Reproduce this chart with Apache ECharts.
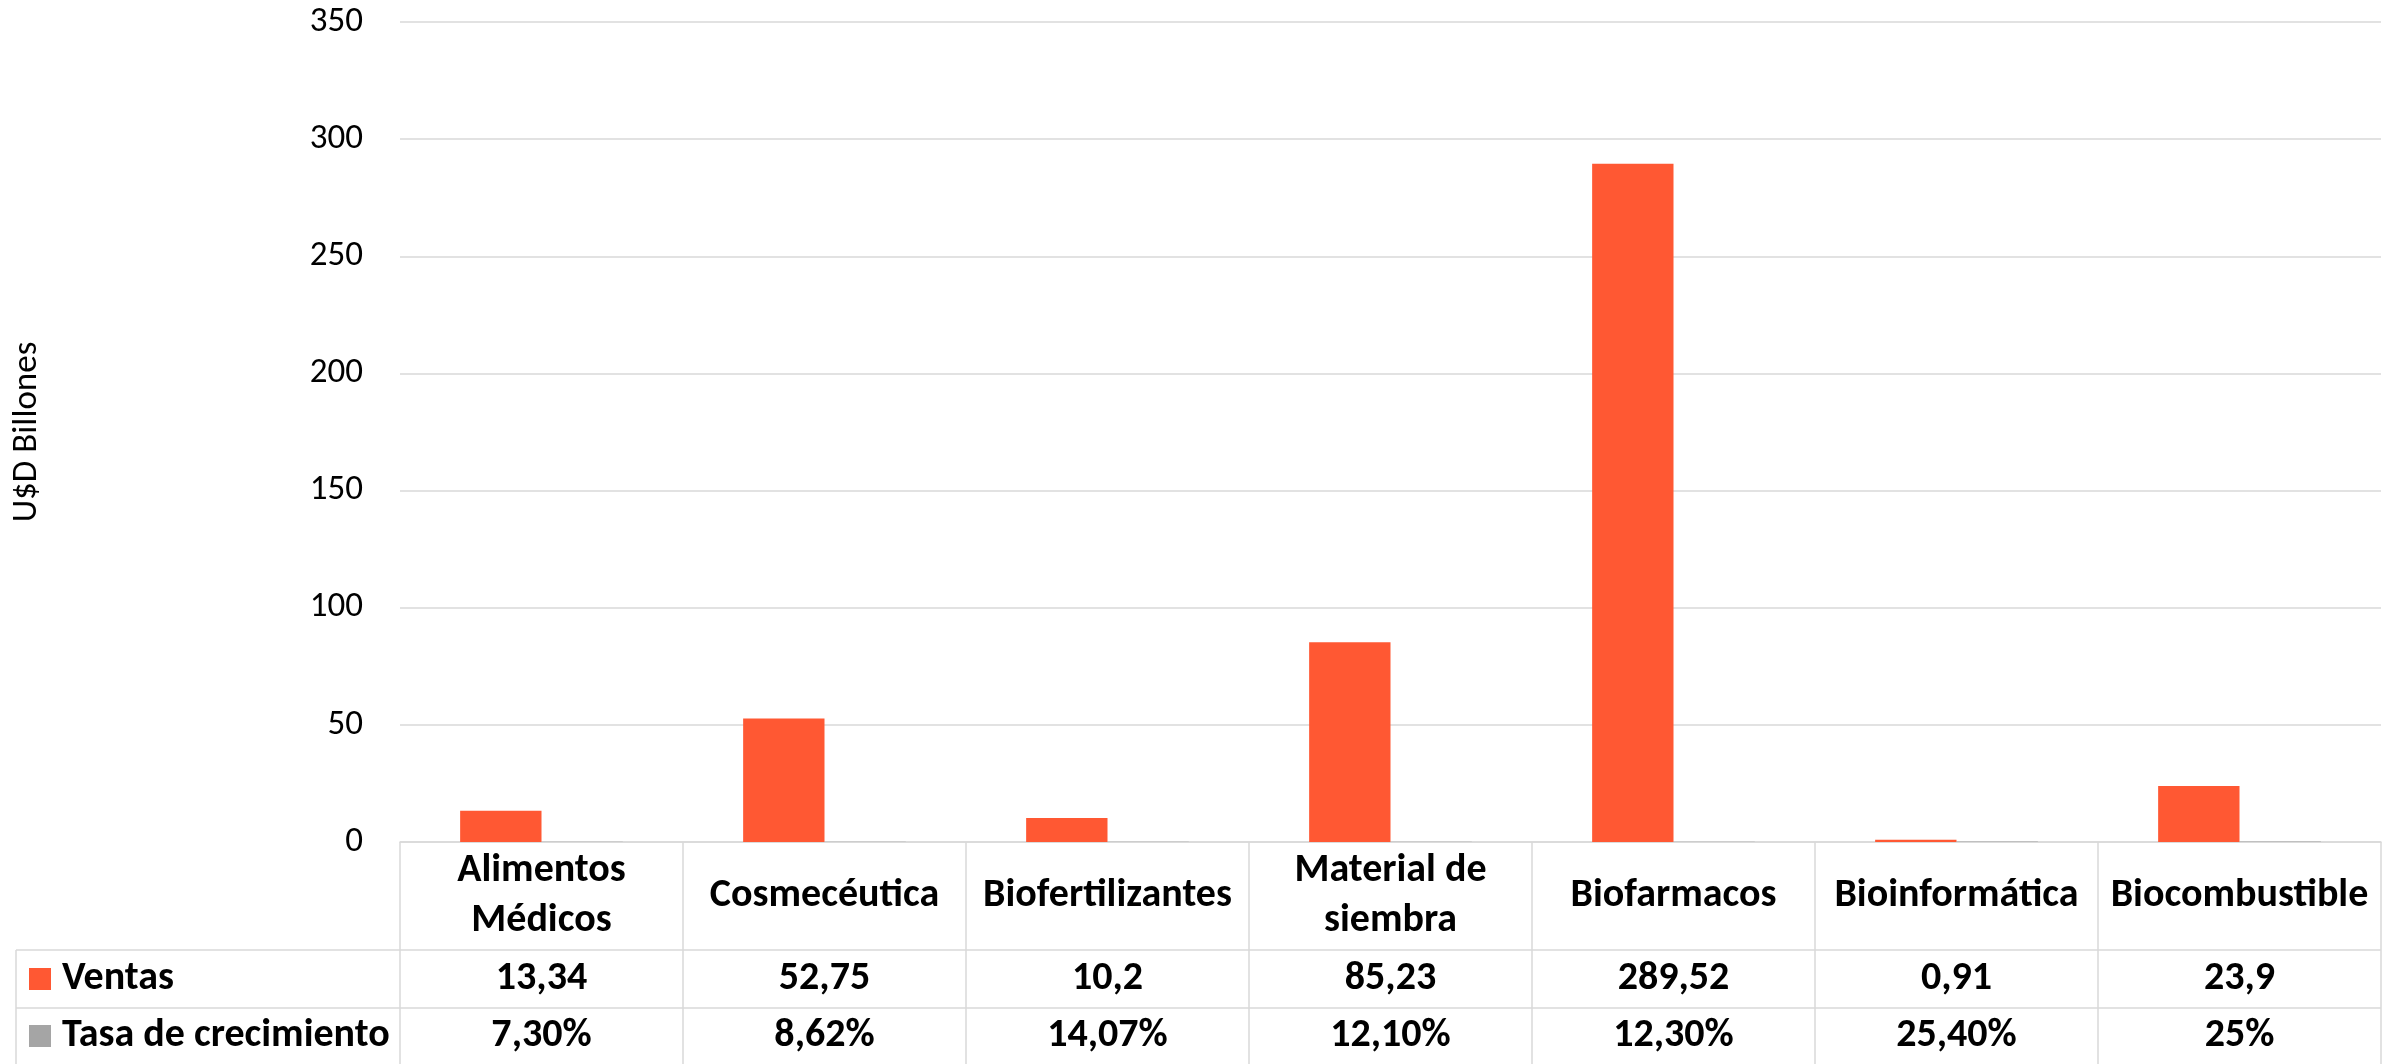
<!DOCTYPE html>
<html>
<head>
<meta charset="utf-8">
<script src="https://cdn.jsdelivr.net/npm/echarts@6/dist/echarts.min.js"></script>
<style>html,body{margin:0;padding:0;background:#fff}#c{width:2394px;height:1064px}</style>
</head>
<body>
<div id="c"></div>
<script>
const categories = ['Alimentos\nMédicos', 'Cosmecéutica', 'Biofertilizantes', 'Material de\nsiembra', 'Biofarmacos', 'Bioinformática', 'Biocombustible'];
const ventas = [13.34, 52.75, 10.2, 85.23, 289.52, 0.91, 23.9];
const tasa = [0.073, 0.0862, 0.1407, 0.121, 0.123, 0.254, 0.25];
const tasaLabels = ['7,30%', '8,62%', '14,07%', '12,10%', '12,30%', '25,40%', '25%'];
const yTicks = [0, 50, 100, 150, 200, 250, 300, 350];

const W = 2394, H = 1064;
const L = 400, R = 2381, T = 22, B = 842;
const row1 = 950, row2 = 1008;
const tableFont = "Carlito, 'Liberation Sans Narrow', 'Open Sans', sans-serif";
const lineColor = '#d9d9d9';
const orange = '#FF5833', gray = '#A5A5A5';
const fs = 40;

const chart = echarts.init(document.getElementById('c'));
const tableLabel = {fontFamily: tableFont, fontWeight: 'bold', fontSize: fs, color: '#000', verticalAlign: 'middle'};
const legendText = {fontFamily: tableFont, fontWeight: 'bold', fontSize: fs, color: '#000', lineHeight: 40, height: 40, padding: [0, 0, 0, 6]};
chart.setOption({
  animation: false,
  grid: {left: L, right: W - R, top: T, bottom: H - B, containLabel: false, outerBoundsMode: 'none'},
  legend: [
    {orient: 'vertical', left: 29, top: (row1 + row2) / 2 - 20, padding: 0, itemWidth: 22, itemHeight: 22,
     icon: 'rect', selectedMode: false, textStyle: legendText, data: ['Ventas']},
    {orient: 'vertical', left: 29, top: (row2 + H) / 2 - 20, padding: 0, itemWidth: 22, itemHeight: 22,
     icon: 'rect', selectedMode: false, textStyle: legendText, data: ['Tasa de crecimiento']}
  ],
  xAxis: [
    {type: 'category', data: categories, position: 'bottom',
     axisLine: {show: true, lineStyle: {color: lineColor, width: 1.5}},
     axisTick: {show: true, length: H - B, lineStyle: {color: lineColor, width: 1.5}},
     axisLabel: Object.assign({margin: (row1 - B) / 2, lineHeight: 50, interval: 0}, tableLabel)},
    {type: 'category', data: categories, position: 'bottom',
     axisLine: {show: false}, axisTick: {show: false},
     axisLabel: Object.assign({margin: (row1 + row2) / 2 - B, interval: 0,
       formatter: (v, i) => String(ventas[i]).replace('.', ',')}, tableLabel)},
    {type: 'category', data: categories, position: 'bottom',
     axisLine: {show: false}, axisTick: {show: false},
     axisLabel: Object.assign({margin: (row2 + H) / 2 - B, interval: 0,
       formatter: (v, i) => tasaLabels[i]}, tableLabel)}
  ],
  yAxis: {
    type: 'value', min: 0, max: 350, interval: 50,
    name: 'U$D Billones', nameLocation: 'middle', nameRotate: 90, nameGap: 355,
    nameTextStyle: {fontFamily: "Carlito, 'Liberation Sans Narrow', sans-serif", fontSize: 35, color: '#000'},
    axisLine: {show: false}, axisTick: {show: false},
    axisLabel: {fontFamily: "Carlito, 'Liberation Sans', sans-serif", fontSize: 35, color: '#000', margin: 37,
      formatter: v => yTicks.includes(v) ? String(v) : ''},
    splitLine: {lineStyle: {color: lineColor, width: 1.5}}
  },
  series: [
    {name: 'Ventas', type: 'bar', data: ventas, itemStyle: {color: orange}, barGap: '0%', barCategoryGap: '42.5%'},
    {name: 'Tasa de crecimiento', type: 'bar', data: tasa, itemStyle: {color: gray}}
  ],
  graphic: [
    {type: 'line', shape: {x1: 16, y1: row1, x2: R, y2: row1}, style: {stroke: lineColor, lineWidth: 1.5}},
    {type: 'line', shape: {x1: 16, y1: row2, x2: R, y2: row2}, style: {stroke: lineColor, lineWidth: 1.5}},
    {type: 'line', shape: {x1: 16, y1: row1, x2: 16, y2: H}, style: {stroke: lineColor, lineWidth: 1.5}}
  ]
});
</script>
</body>
</html>
